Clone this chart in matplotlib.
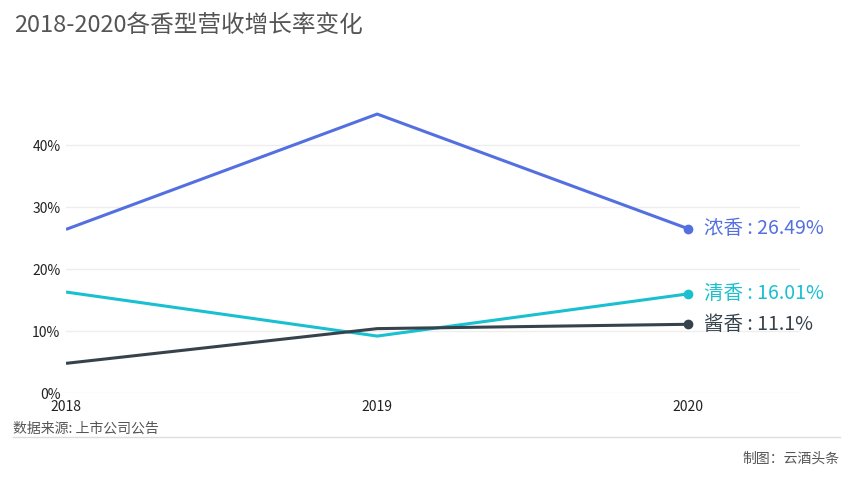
import matplotlib
matplotlib.use('Agg')
import matplotlib.pyplot as plt

plt.rcParams['font.family'] = ['Noto Sans CJK SC', 'DejaVu Sans']

years = [2018, 2019, 2020]
names = ['浓香', '清香', '酱香']
nong = [26.4, 45.0, 26.49]
qing = [16.3, 9.2, 16.01]
jiang = [4.8, 10.4, 11.1]
end_labels = ['26.49%', '16.01%', '11.1%']
colors = ['#5470E0', '#19C0CF', '#36434C']

fig = plt.figure(figsize=(8.54, 4.8), dpi=100)
ax = fig.add_axes([0.0773, 0.181, 0.86, 0.646])

for vals, name, lab, c in zip([nong, qing, jiang], names, end_labels, colors):
    ax.plot(years, vals, color=c, lw=2.2, solid_capstyle='butt')
    ax.plot(years[-1], vals[-1], 'o', color=c, ms=6)
    ax.text(years[-1] + 0.05, vals[-1], f'{name} : {lab}', color=c,
            fontsize=14, va='center', ha='left')

ax.set_xlim(2018, 2020.36)
ax.set_ylim(0, 50)
ax.set_yticks([0, 10, 20, 30, 40])
ax.set_yticklabels(['0%', '10%', '20%', '30%', '40%'])
ax.set_xticks(years)
ax.set_xticklabels([str(y) for y in years])
ax.tick_params(length=0, labelsize=10, colors='#222222')
ax.tick_params(axis='x', pad=5)
ax.tick_params(axis='y', pad=4)
ax.grid(axis='y', color='#EEEEEE', lw=1)
ax.set_axisbelow(True)
for s in ax.spines.values():
    s.set_visible(False)

fig.text(14 / 854, 1 - 25 / 480, '2018-2020各香型营收增长率变化', fontsize=17,
         color='#555555', va='center', ha='left')
fig.text(13 / 854, 1 - 429 / 480, '数据来源: 上市公司公告', fontsize=10,
         color='#555555', va='center', ha='left')
fig.text(840 / 854, 1 - 459 / 480, '制图：云酒头条', fontsize=10,
         color='#555555', va='center', ha='right')
fig.add_artist(plt.Line2D([13 / 854, 840 / 854], [1 - 437 / 480] * 2,
                          color='#DDDDDD', lw=1))

fig.savefig('out.png', dpi=100)
